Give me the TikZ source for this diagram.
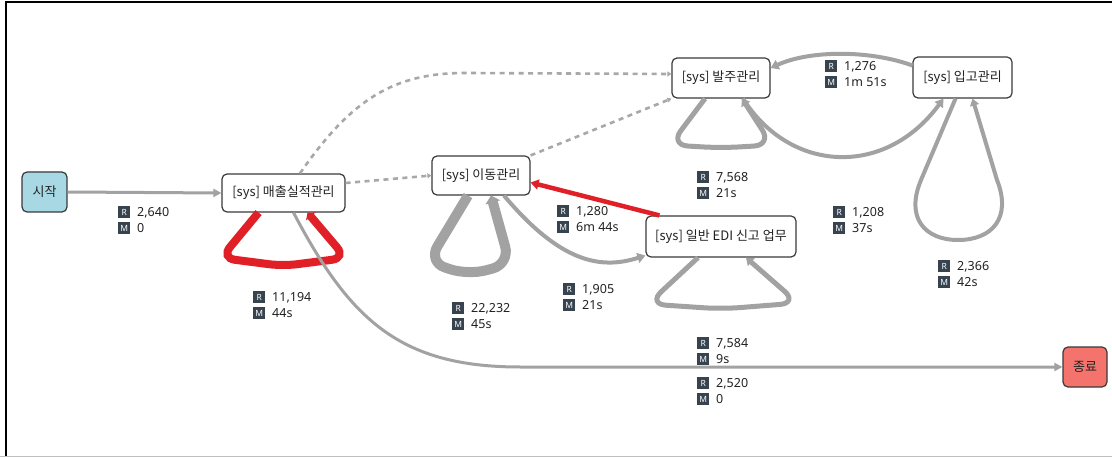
\documentclass[tikz,border=0pt]{standalone}
\usepackage{fontspec}
\setmainfont{Noto Sans CJK KR}
\newfontfamily\badgefont{Noto Sans}
\newfontfamily\statfont{Noto Sans}
\usetikzlibrary{arrows.meta}
\definecolor{edgegray}{HTML}{A2A2A2}
\definecolor{dashgray}{HTML}{A8A8A8}
\definecolor{flowred}{HTML}{E01F26}
\definecolor{boxline}{HTML}{3A3A3A}
\definecolor{textc}{HTML}{222222}
\definecolor{badgec}{HTML}{37434F}
\definecolor{startfill}{HTML}{A8D8E4}
\definecolor{endfill}{HTML}{F4736D}
\newcommand\badge[1]{\begingroup\setlength{\fboxsep}{0pt}\raisebox{-1.6pt}{\colorbox{badgec}{\makebox[12pt][c]{\rule{0pt}{12pt}\raisebox{2.6pt}{\textcolor{white}{\badgefont\bfseries\fontsize{8.5}{8.5}\selectfont #1}}}}}\endgroup}
\newcommand\statpair[5]{%
  \node[stat] (#1r) at (#2,#3) {\badge{R}\hspace{7pt}#4};
  \node[stat] (#1m) at (#2,#3+16) {\badge{M}\hspace{7pt}#5};}
\begin{document}
\begin{tikzpicture}[x=1pt,y=-1pt,
  box/.style={draw=boxline, line width=1.2pt, rounded corners=5pt, fill=white,
    font=\fontsize{13}{15}\selectfont, text=textc, inner sep=0pt},
  stat/.style={anchor=west, inner sep=0pt, font=\statfont\fontsize{12.5}{14}\selectfont, text=textc},
  flow/.style={draw=edgegray, line width=3pt, -{Triangle[length=8pt,width=8pt]}},
  mid/.style={draw=edgegray, line width=4pt, -{Triangle[length=8pt,width=10pt]}},
  selfloop/.style={draw=edgegray, rounded corners=18pt},
  dashedge/.style={draw=dashgray, line width=2.6pt, dash pattern=on 5pt off 4.5pt,
    -{Triangle[length=4pt,width=5pt]}},
  redflow/.style={draw=flowred, line width=4.5pt, -{Triangle[length=8pt,width=10pt]}}]
\useasboundingbox (0,0) rectangle (1112,457);
\fill[white] (0,0) rectangle (1112,457);
% frame
\draw[black, line width=2pt] (6,457) -- (6,2.5) -- (1112,2.5);
\draw[gray!50, line width=1pt] (0,456.5) -- (1112,456.5);

% nodes
\node[box, fill=startfill, minimum width=45pt, minimum height=40pt] (start) at (44.5,192) {시작};
\node[box, minimum width=123pt, minimum height=38pt] (mc) at (283.5,193) {[sys] 매출실적관리};
\node[box, minimum width=98pt, minimum height=39pt] (mv) at (481,175.5) {[sys] 이동관리};
\node[box, minimum width=98pt, minimum height=40pt] (po) at (721,78) {[sys] 발주관리};
\node[box, minimum width=99pt, minimum height=41pt] (gr) at (962.5,77.5) {[sys] 입고관리};
\node[box, minimum width=150pt, minimum height=41pt] (edi) at (721,236.5) {[sys] 일반 EDI 신고 업무};
\node[box, fill=endfill, minimum width=44pt, minimum height=40pt] (end) at (1085,367) {종료};

% self loops
\draw[selfloop, rounded corners=14pt, draw=flowred, line width=8pt, -{Triangle[length=5pt,width=12pt]}]
  ([xshift=-25pt]mc.south) -- (221,258) -- (283,266) -- (346,258) -- ([xshift=24pt]mc.south);
\draw[selfloop, line width=10pt, -{Triangle[length=7pt,width=15pt]}]
  ([xshift=-13pt]mv.south) -- (428,262) -- (468,275) -- (510,264) -- ([xshift=10pt]mv.south);
\draw[selfloop, line width=5pt, -{Triangle[length=7pt,width=10pt]}]
  ([xshift=-16pt]po.south) -- (670,145) -- (721,148) -- (772,145) -- ([xshift=21pt]po.south);
\draw[selfloop, line width=5pt, -{Triangle[length=7pt,width=10pt]}]
  ([xshift=-23pt]edi.south) -- (648,304) -- (722,309) -- (798,303) -- ([xshift=25pt]edi.south);
\draw[draw=edgegray, line width=4pt, -{Triangle[length=7pt,width=9pt]}]
  ([xshift=-7pt]gr.south) -- (921,180) .. controls (905,218) and (925,240) .. (958,240)
  .. controls (992,240) and (1012,218) .. (997,180) -- ([xshift=10pt]gr.south);

% dashed edges
\draw[dashedge] ([yshift=10pt]mc.east) -- (mv.west);
\draw[dashedge] ([xshift=16.5pt]mc.north) .. controls (352,98) and (395,73) .. (465,73) -- ([yshift=4pt]po.west);
\draw[dashedge] (mv.north east) -- (po.south west);

% solid edges
\draw[flow] (start.east) -- (mc.west);
\draw[flow] ([xshift=10pt]mc.south) .. controls (350,320) and (400,367) .. (520,367) -- (end.west);
\draw[mid] ([xshift=23pt]mv.south) .. controls (560,262) and (600,270) .. ([yshift=-19pt]edi.west);
\draw[redflow] ([xshift=14pt]edi.north west) -- ([yshift=-7pt]mv.east);
\draw[mid] ([xshift=22pt]po.south) .. controls (790,173) and (885,178) .. ([xshift=-19pt]gr.south);
\draw[mid] ([yshift=12pt]gr.west) .. controls (870,50) and (810,50) .. ([yshift=10pt]po.east);

% statistics
\statpair{sa}{118}{212}{2,640}{0}
\statpair{sb}{253}{297}{11,194}{44s}
\statpair{sc}{452}{308}{22,232}{45s}
\statpair{sd}{563}{289}{1,905}{21s}
\statpair{se}{557}{211}{1,280}{6m 44s}
\statpair{sf}{697}{177}{7,568}{21s}
\statpair{sg}{833}{212}{1,208}{37s}
\statpair{sh}{938}{266}{2,366}{42s}
\statpair{si}{697}{343}{7,584}{9s}
\statpair{sj}{697}{383}{2,520}{0}
\statpair{sk}{825}{66}{1,276}{1m 51s}
\end{tikzpicture}
\end{document}
